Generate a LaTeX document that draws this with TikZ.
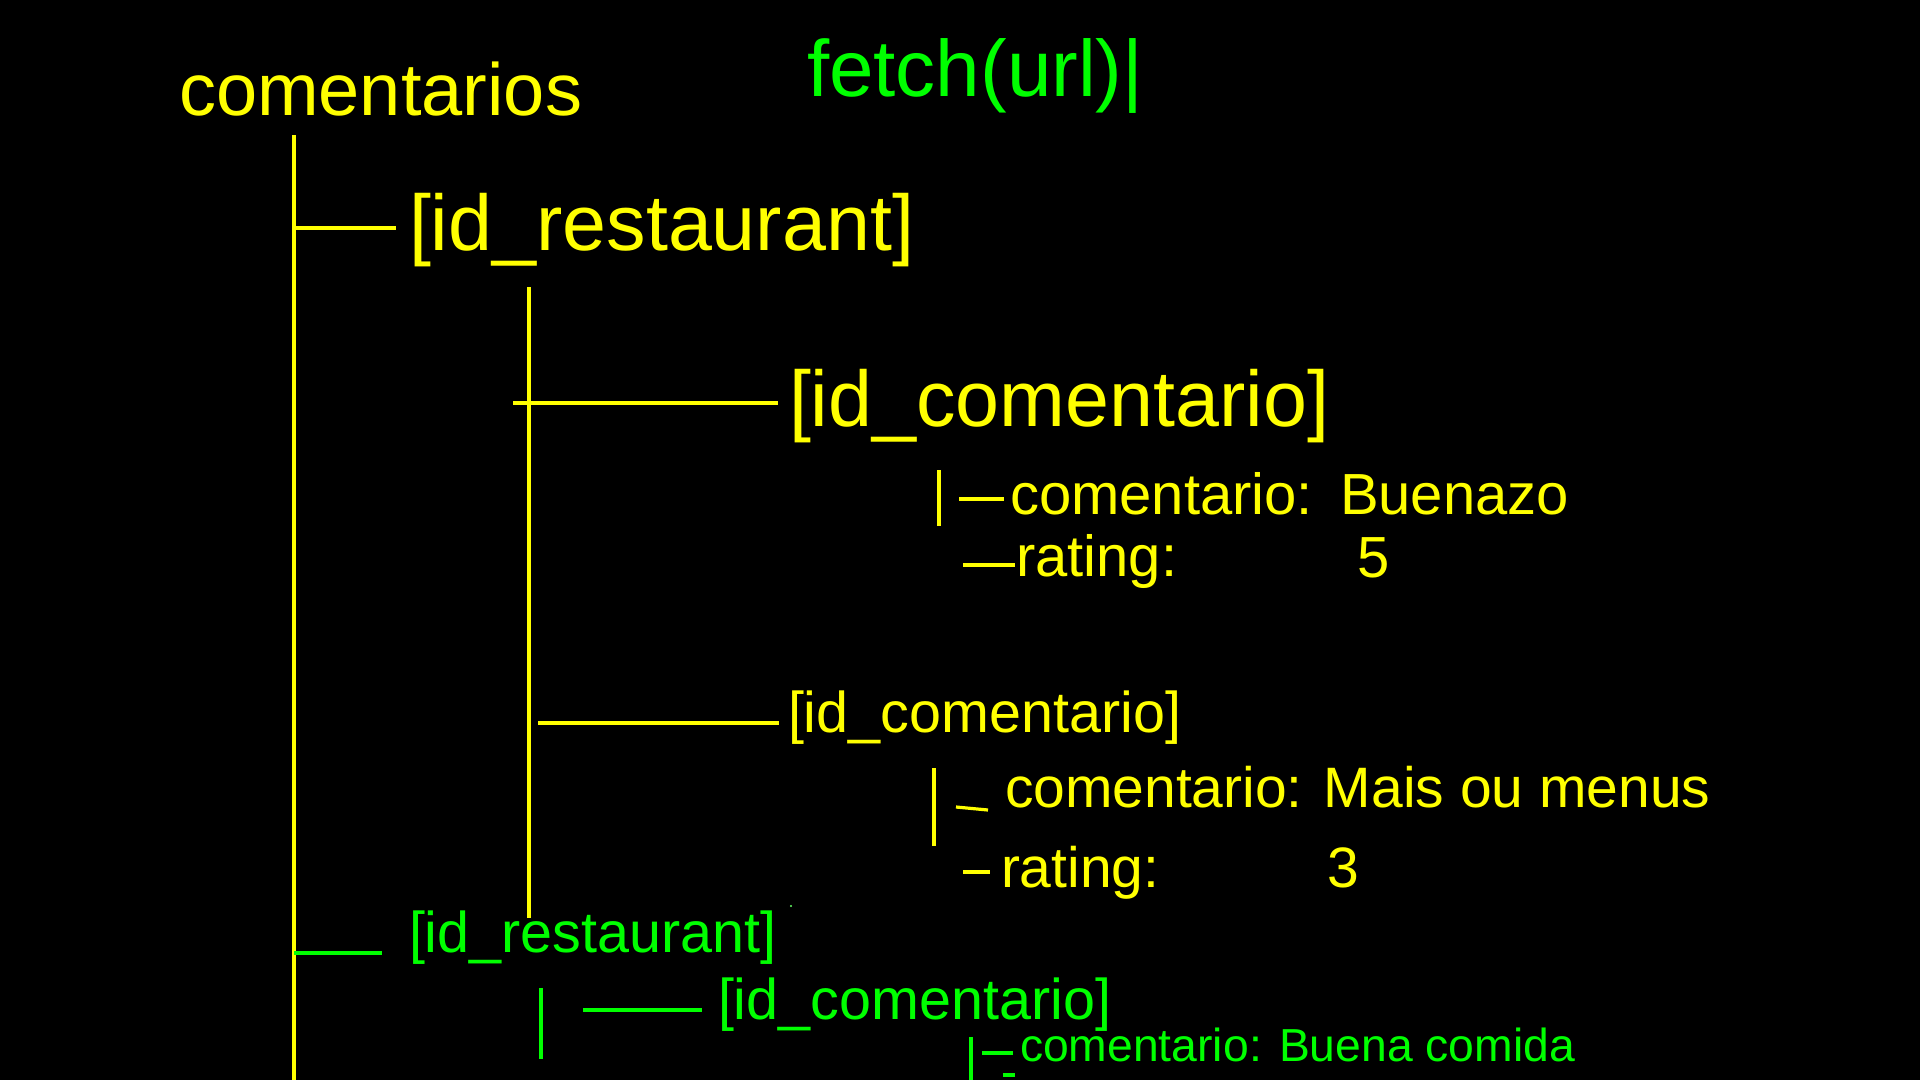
\documentclass[tikz,border=0pt]{standalone}
\usepackage{fontspec}
\setmainfont{Liberation Sans}
\definecolor{ylw}{RGB}{255,255,0}
\definecolor{grn}{RGB}{0,255,0}
\tikzset{
  lbl/.style={anchor=base west, inner sep=0pt, outer sep=0pt},
  ytxt/.style={lbl, text=ylw},
  gtxt/.style={lbl, text=grn},
  fs/.style={font=\fontsize{#1}{#1}\selectfont},
  yline/.style={draw=ylw, line width=3.2pt},
  gline/.style={draw=grn, line width=3.2pt},
}
\begin{document}
\begin{tikzpicture}[x=1pt,y=-1pt]
\fill[black] (0,0) rectangle (1920,1080);
\useasboundingbox (0,0) rectangle (1920,1080);

% texts
\node[ytxt, fs=74] (root) at (179,115) {comentarios};
\node[gtxt, fs=80] (fetch) at (807,96) {fetch(url)|};
\node[ytxt, fs=79] (rest1) at (409,250) {[id\_restaurant]};
\node[ytxt, fs=79] (com1) at (789,426) {[id\_comentario]};
\node[ytxt, fs=58] (c1k) at (1010,514) {comentario:};
\node[ytxt, fs=58] (c1v) at (1340,514) {Buenazo};
\node[ytxt, fs=58] (r1k) at (1016,576) {rating:};
\node[ytxt, fs=58] (r1v) at (1357,577) {5};
\node[ytxt, fs=57.5] (com2) at (788,732) {[id\_comentario]};
\node[ytxt, fs=57] (c2k) at (1005,807) {comentario: Mais ou menus};
\node[ytxt, fs=57] (r2k) at (1001,887) {rating:};
\node[ytxt, fs=57] (r2v) at (1327,887) {3};
\node[gtxt, fs=57.5] (rest2) at (409,952) {[id\_restaurant]};
\node[gtxt, fs=57.5] (com3) at (718,1019) {[id\_comentario]};
\node[gtxt, fs=46.3] (c3k) at (1020,1061) {comentario: Buena comida};

% connector end points
\coordinate (v0a) at (294,135);  \coordinate (v0b) at (294,1080);
\coordinate (h1a) at (294,228);  \coordinate (h1b) at (396,228);
\coordinate (v1a) at (529,287);  \coordinate (v1b) at (529,918);
\coordinate (h2a) at (513,403);  \coordinate (h2b) at (778,403);
\coordinate (b1a) at (939,470);  \coordinate (b1b) at (939,526);
\coordinate (d1a) at (959,499);  \coordinate (d1b) at (1004,499);
\coordinate (d2a) at (963,565);  \coordinate (d2b) at (1015,565);
\coordinate (h3a) at (538,723);  \coordinate (h3b) at (779,723);
\coordinate (b2a) at (934,768);  \coordinate (b2b) at (934,846);
\coordinate (d3a) at (956,807);  \coordinate (d3b) at (988,810);
\coordinate (d4a) at (963,872);  \coordinate (d4b) at (990,872);
\coordinate (h4a) at (294,953);  \coordinate (h4b) at (382,953);
\coordinate (b3a) at (541,988);  \coordinate (b3b) at (541,1059);
\coordinate (h5a) at (583,1010); \coordinate (h5b) at (702,1010);
\coordinate (b4a) at (971,1037); \coordinate (b4b) at (971,1080);
\coordinate (d5a) at (982,1053); \coordinate (d5b) at (1013,1053);
\coordinate (d6a) at (1003,1075); \coordinate (d6b) at (1015,1075);
\coordinate (dot) at (791,906);

% yellow tree
\draw[yline] (v0a) -- (v0b);
\draw[yline] (h1a) -- (h1b);
\draw[yline] (v1a) -- (v1b);
\draw[yline] (h2a) -- (h2b);
\draw[yline] (b1a) -- (b1b);
\draw[yline] (d1a) -- (d1b);
\draw[yline] (d2a) -- (d2b);
\draw[yline] (h3a) -- (h3b);
\draw[yline] (b2a) -- (b2b);
\draw[yline] (d3a) -- (d3b);
\draw[yline] (d4a) -- (d4b);
% green tree
\draw[gline] (h4a) -- (h4b);
\draw[gline] (b3a) -- (b3b);
\draw[gline] (h5a) -- (h5b);
\draw[gline] (b4a) -- (b4b);
\draw[gline] (d5a) -- (d5b);
\draw[gline, line width=4pt] (d6a) -- (d6b);
\fill[grn!60!white] (dot) circle (1.2);
\end{tikzpicture}
\end{document}
